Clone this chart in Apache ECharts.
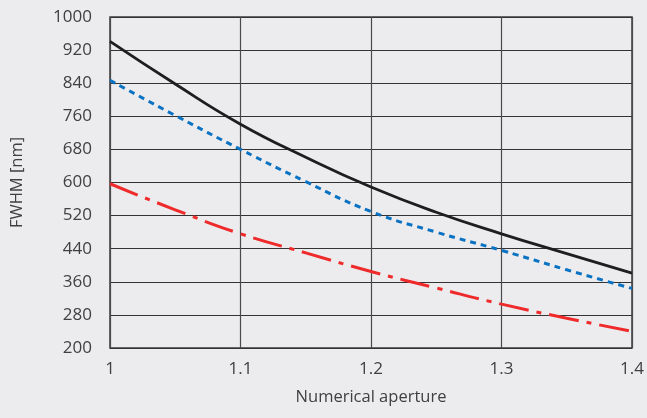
<!DOCTYPE html>
<html>
<head>
<meta charset="utf-8">
<script src="https://cdn.jsdelivr.net/npm/echarts@6/dist/echarts.min.js"></script>
<style>
html,body{margin:0;padding:0;background:#ececee;}
#chart{width:647px;height:418px;}
</style>
</head>
<body>
<div id="chart"></div>
<script>
// Numerical aperture sample points
var naValues = [1.0, 1.05, 1.1, 1.15, 1.2, 1.25, 1.3, 1.35, 1.4];
// FWHM [nm]
var solidValues   = [941, 838, 741, 661, 589, 528, 476, 428, 381];
var dottedValues  = [847, 762, 680, 602, 530, 480, 436, 389, 344];
var dashDotValues = [597, 534, 476, 430, 385, 345, 306, 272, 240];
// Tick values
var xTicks = [1, 1.1, 1.2, 1.3, 1.4];
var yTicks = [200, 280, 360, 440, 520, 600, 680, 760, 840, 920, 1000];

function pairs(xs, ys) { return xs.map(function (x, i) { return [x, ys[i]]; }); }

var fontFamily = '"Open Sans", "Noto Sans", sans-serif';
var textColor = '#404040';

var chart = echarts.init(document.getElementById('chart'), null, {renderer: 'canvas'});
chart.setOption({
  backgroundColor: '#ececee',
  animation: false,
  grid: {
    left: 110, right: 15, top: 17, bottom: 70,
    show: true, borderColor: '#3a3a3a', borderWidth: 1.5, backgroundColor: 'transparent'
  },
  xAxis: {
    type: 'value', min: 1, max: 1.4,
    name: 'Numerical aperture', nameLocation: 'middle', nameGap: 41,
    nameTextStyle: {fontFamily: fontFamily, fontSize: 16.5, color: textColor},
    axisLine: {show: false},
    axisTick: {show: false, customValues: xTicks},
    axisLabel: {customValues: xTicks, fontFamily: fontFamily, fontSize: 17, color: textColor, margin: 13,
      formatter: function (v) { return String(+v.toFixed(1)); }},
    splitLine: {show: true, lineStyle: {color: '#4a4a4a', width: 1.2}}
  },
  yAxis: {
    type: 'value', min: 200, max: 1000,
    name: 'FWHM [nm]', nameLocation: 'middle', nameGap: 84, nameRotate: 90,
    nameTextStyle: {fontFamily: fontFamily, fontSize: 16.5, color: textColor},
    axisLine: {show: false},
    axisTick: {show: false, customValues: yTicks},
    axisLabel: {customValues: yTicks, fontFamily: fontFamily, fontSize: 17, color: textColor, margin: 18,
      formatter: function (v) { return String(Math.round(v)); }},
    splitLine: {show: true, lineStyle: {color: '#333333', width: 1.2}}
  },
  series: [
    {
      type: 'line', data: pairs(naValues, solidValues), smooth: true, showSymbol: false,
      lineStyle: {color: '#1e1e1e', width: 2.8, type: 'solid'}
    },
    {
      type: 'line', data: pairs(naValues, dottedValues), smooth: true, showSymbol: false,
      lineStyle: {color: '#0a72c2', width: 3, type: [6, 5]}
    },
    {
      type: 'line', data: pairs(naValues, dashDotValues), smooth: true, showSymbol: false,
      lineStyle: {color: '#ef2a2a', width: 3, type: [30, 8, 5, 8]}
    }
  ]
});
</script>
</body>
</html>
